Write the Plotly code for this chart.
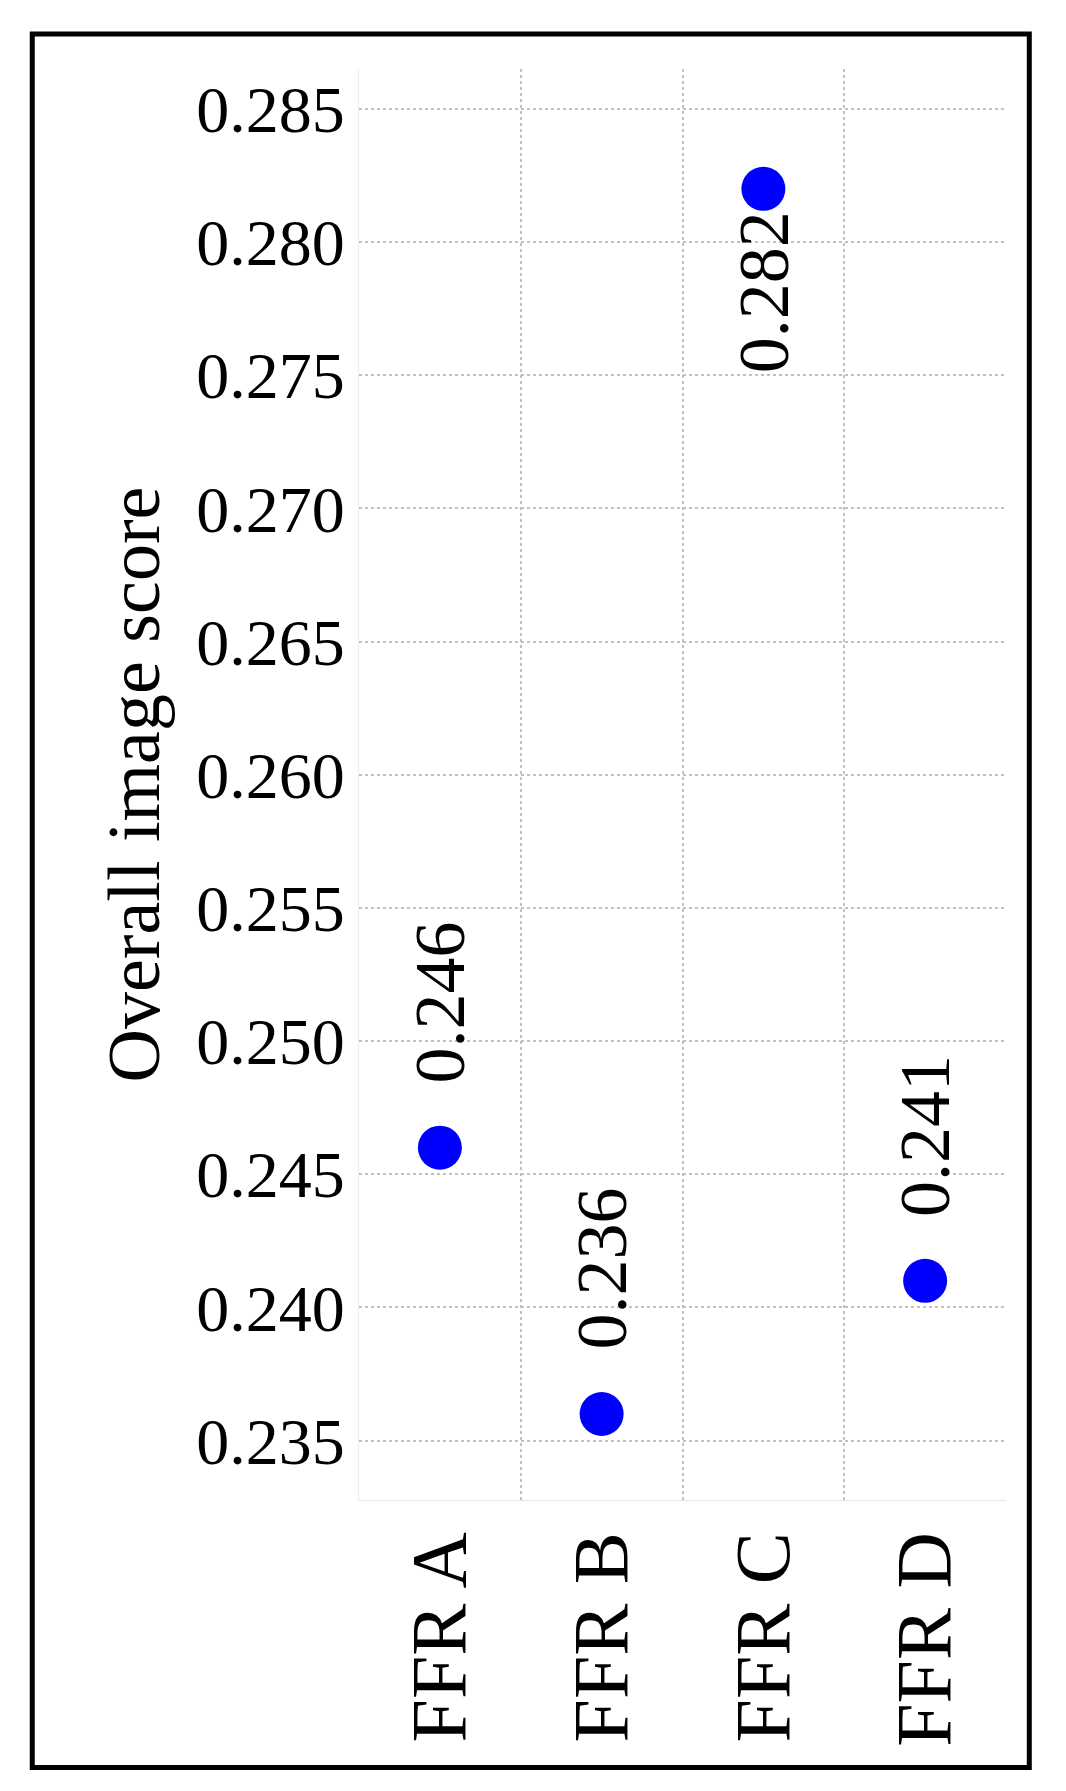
import plotly.graph_objects as go

categories = ["FFR A", "FFR B", "FFR C", "FFR D"]
scores = [0.246, 0.236, 0.282, 0.241]
labels = ["0.246", "0.236", "0.282", "0.241"]
label_side = ["above", "above", "below", "above"]
ytick_vals = [0.235, 0.240, 0.245, 0.250, 0.255, 0.260, 0.265, 0.270, 0.275, 0.280, 0.285]

xs = list(range(len(categories)))
fig = go.Figure(go.Scatter(x=xs, y=scores, mode="markers",
                           marker=dict(color="#0000ff", size=44), showlegend=False))

for x, y, t, side in zip(xs, scores, labels, label_side):
    fig.add_annotation(x=x, y=y, text=t, showarrow=False, textangle=-90,
                       yanchor="bottom" if side == "above" else "top",
                       yshift=62 if side == "above" else -20,
                       font=dict(family="Liberation Serif", size=72, color="black"))

fig.update_layout(
    width=1066, height=1791, paper_bgcolor="white", plot_bgcolor="white",
    margin=dict(l=351, r=68, t=61, b=299),
    xaxis=dict(range=[-0.5, 3.5], tickvals=xs, ticktext=categories, tickangle=-90,
               tickfont=dict(family="Liberation Serif", size=78, color="black"),
               showgrid=False, zeroline=False,
               showline=True, linecolor="#e6e6e6", linewidth=1,
               minor=dict(tickvals=[0.5, 1.5, 2.5], showgrid=True,
                          gridcolor="#c0c0c0", griddash="dot", gridwidth=2, ticks="")),
    yaxis=dict(range=[0.23277, 0.2865], tickvals=ytick_vals,
               ticktext=[f"{v:.3f}" for v in ytick_vals],
               tickfont=dict(family="Liberation Serif", size=66, color="black"),
               showgrid=True, gridcolor="#c0c0c0", griddash="dot", gridwidth=2,
               zeroline=False, showline=True, linecolor="#eeeeee",
               title=dict(text="Overall image score", font=dict(family="Liberation Serif", size=74, color="black"),
                          standoff=12)),
)
fig.add_shape(type="rect", xref="paper", yref="paper", x0=-0.505, x1=1.036, y0=-0.187, y1=1.0245,
              line=dict(color="black", width=5))
fig.write_html("out.html")
